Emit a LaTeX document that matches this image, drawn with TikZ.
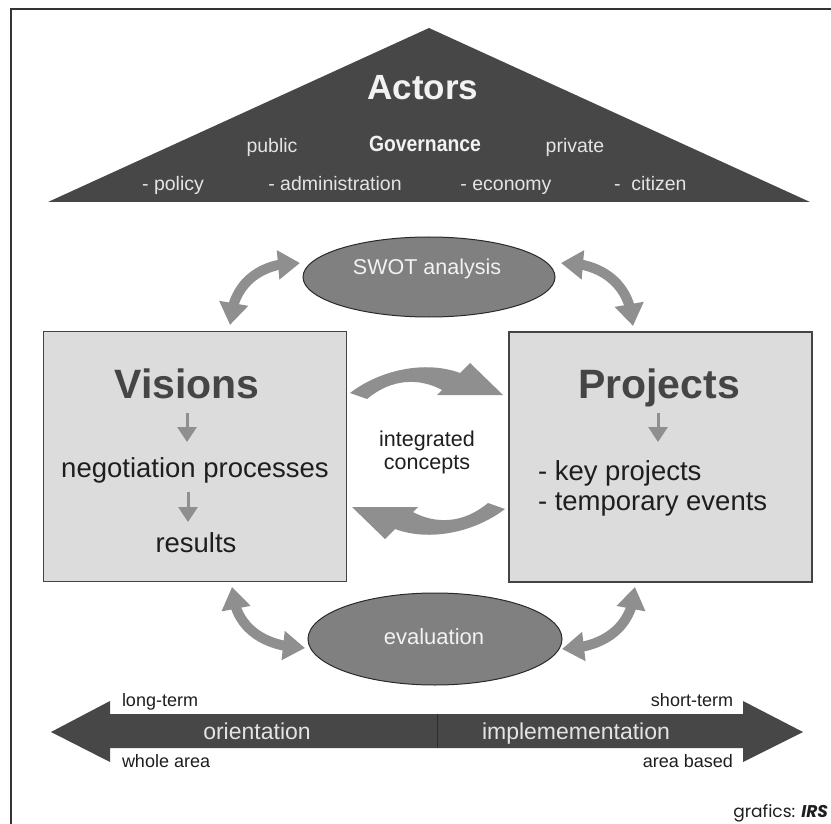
\documentclass[tikz,border=0pt]{standalone}
\usepackage{fontspec}
\setmainfont{Liberation Sans}
\newfontfamily\popfont{Poppins}
\usetikzlibrary{arrows.meta,bending,shapes.geometric,calc}
\definecolor{tri}{HTML}{474747}
\definecolor{frame}{HTML}{333333}
\definecolor{boxfill}{HTML}{DCDCDC}
\definecolor{boxline}{HTML}{444444}
\definecolor{arr}{HTML}{8F8F8F}
\definecolor{ellfill}{HTML}{808080}
\definecolor{ellline}{HTML}{2A2A2A}
\definecolor{darktext}{HTML}{1E1E1E}
\definecolor{headtext}{HTML}{454545}
\definecolor{lighttext}{HTML}{F2F2F2}
\definecolor{softtext}{HTML}{E4E4E4}
\definecolor{divline}{HTML}{2C2C2C}
\newcommand\myfs[1]{\fontsize{#1}{#1}\selectfont}
\begin{document}
\begin{tikzpicture}[x=1pt,y=-1pt,
  t/.style={inner sep=0pt, outer sep=0pt, anchor=base},
  box/.style={draw=boxline, line width=1.8pt, fill=boxfill, minimum width=303pt, minimum height=250pt, inner sep=0pt},
  ell/.style={ellipse, draw=ellline, line width=1pt, fill=ellfill, inner sep=0pt},
  dbl/.style={draw=arr, line width=10pt, arrows={Triangle[width=28pt,length=22pt]-Triangle[width=28pt,length=22pt]}},
  down/.style={draw=arr, line width=3pt, arrows={-Triangle[width=19pt,length=15pt]}},
  curvearr/.style={fill=arr},
]
\useasboundingbox (0,0) rectangle (831,824);
\fill[white] (0,0) rectangle (831,824);
\draw[draw=frame, line width=2pt] (11,824) -- (11,9) -- (831,9);

% Actors triangle
\fill[tri] (48,202) -- (429,28) -- (810,202) -- cycle;
\node[t, font={\bfseries\myfs{35}}, text=lighttext] (actors) at (423,100) {Actors};
\node[t, font={\myfs{19.5}}, text=softtext] (public) at (272,153) {public};
\node[t, font={\bfseries\myfs{22}}, text=lighttext] (gov) at (425,152) {\scalebox{0.88}[1]{Governance}};
\node[t, font={\myfs{19.5}}, text=softtext] (private) at (575,153) {private};
\node[t, font={\myfs{19.5}}, text=softtext] (policy) at (173,191) {- policy};
\node[t, font={\myfs{19.5}}, text=softtext] (admin) at (335,191) {- administration};
\node[t, font={\myfs{19.5}}, text=softtext] (econ) at (506,191) {- economy};
\node[t, font={\myfs{19.5}}, text=softtext, anchor=base west] (citizen) at (614,191) {-~~citizen};

% boxes
\node[box] (vis) at (195,456.5) {};
\node[box] (proj) at (660.5,457) {};

% ellipses
\node[ell, minimum width=252pt, minimum height=80pt] (swot) at (429,277) {};
\node[t, font={\myfs{21.5}}, text=lighttext] (swottext) at (427,275) {SWOT analysis};
\node[ell, minimum width=254pt, minimum height=92pt] (eval) at (435,639) {};
\node[t, font={\myfs{22}}, text=lighttext] (evaltext) at (434,644) {evaluation};

% Visions content
\node[t, font={\bfseries\myfs{41}}, text=headtext] (vtitle) at (187,398) {Visions};
\coordinate (va1) at (187,413); \coordinate (va2) at (187,442);
\draw[down] (va1) -- (va2);
\node[t, font={\myfs{27.5}}, text=darktext] (neg) at (195,477) {negotiation processes};
\coordinate (vb1) at (188,492); \coordinate (vb2) at (188,522);
\draw[down] (vb1) -- (vb2);
\node[t, font={\myfs{27.5}}, text=darktext] (res) at (196,552) {results};

% Projects content
\node[t, font={\bfseries\myfs{41}}, text=headtext] (ptitle) at (659,398) {Projects};
\coordinate (pa1) at (658,413); \coordinate (pa2) at (658,442);
\draw[down] (pa1) -- (pa2);
\node[t, font={\myfs{27.5}}, text=darktext, anchor=base west] (key) at (538,480) {- key projects};
\node[t, font={\myfs{27.5}}, text=darktext, anchor=base west] (temp) at (538,510) {- temporary events};

% integrated concepts
\node[t, font={\myfs{21.5}}, text=darktext] (integ) at (427,446) {integrated};
\node[t, font={\myfs{21.5}}, text=darktext] (conc) at (427,469) {concepts};
\fill[curvearr] (350,393) .. controls (380,370) and (425,360) .. (460,373) -- (470,363) -- (503,395) -- (437,395) -- (442,390) .. controls (420,378) and (392,378) .. (367,399) -- cycle;
\fill[curvearr, rotate around={180:(427.5,451)}] (350,393) .. controls (380,370) and (425,360) .. (460,373) -- (470,363) -- (503,395) -- (437,395) -- (442,390) .. controls (420,378) and (392,378) .. (367,399) -- cycle;

% curved double arrows
\coordinate (c1a) at (230,325); \coordinate (c1b) at (300,263);
\draw[dbl] (c1a) .. controls (232,282) and (262,262) .. (c1b);
\coordinate (c2a) at (561,263); \coordinate (c2b) at (633,326);
\draw[dbl] (c2a) .. controls (600,262) and (631,283) .. (c2b);
\coordinate (c3a) at (232,587); \coordinate (c3b) at (305,648);
\draw[dbl] (c3a) .. controls (234,628) and (264,647) .. (c3b);
\coordinate (c4a) at (562,649); \coordinate (c4b) at (635,587);
\draw[dbl] (c4a) .. controls (603,648) and (633,628) .. (c4b);

% bottom double arrow
\fill[tri] (51,732) -- (110,701) -- (110,714) -- (743,714) -- (743,701) -- (803,732) -- (743,762) -- (743,748) -- (110,748) -- (110,762) -- cycle;
\draw[divline, line width=0.8pt] (437,714) -- (437,748);
\node[t, font={\myfs{18}}, text=darktext, anchor=base west] (lt) at (122,706) {long-term};
\node[t, font={\myfs{18}}, text=darktext, anchor=base west] (wa) at (122,767) {whole area};
\node[t, font={\myfs{18}}, text=darktext, anchor=base east] (st) at (733,706) {short-term};
\node[t, font={\myfs{18}}, text=darktext, anchor=base east] (ab) at (733,767) {area based};
\node[t, font={\myfs{23}}, text=softtext] (orient) at (257,739) {orientation};
\node[t, font={\myfs{23}}, text=softtext] (impl) at (576,739) {implemementation};

\node[t, anchor=base east, text=darktext] (credit) at (828,817) {\popfont\myfs{17}grafics: \textbf{\textit{IRS}}};
\end{tikzpicture}
\end{document}
